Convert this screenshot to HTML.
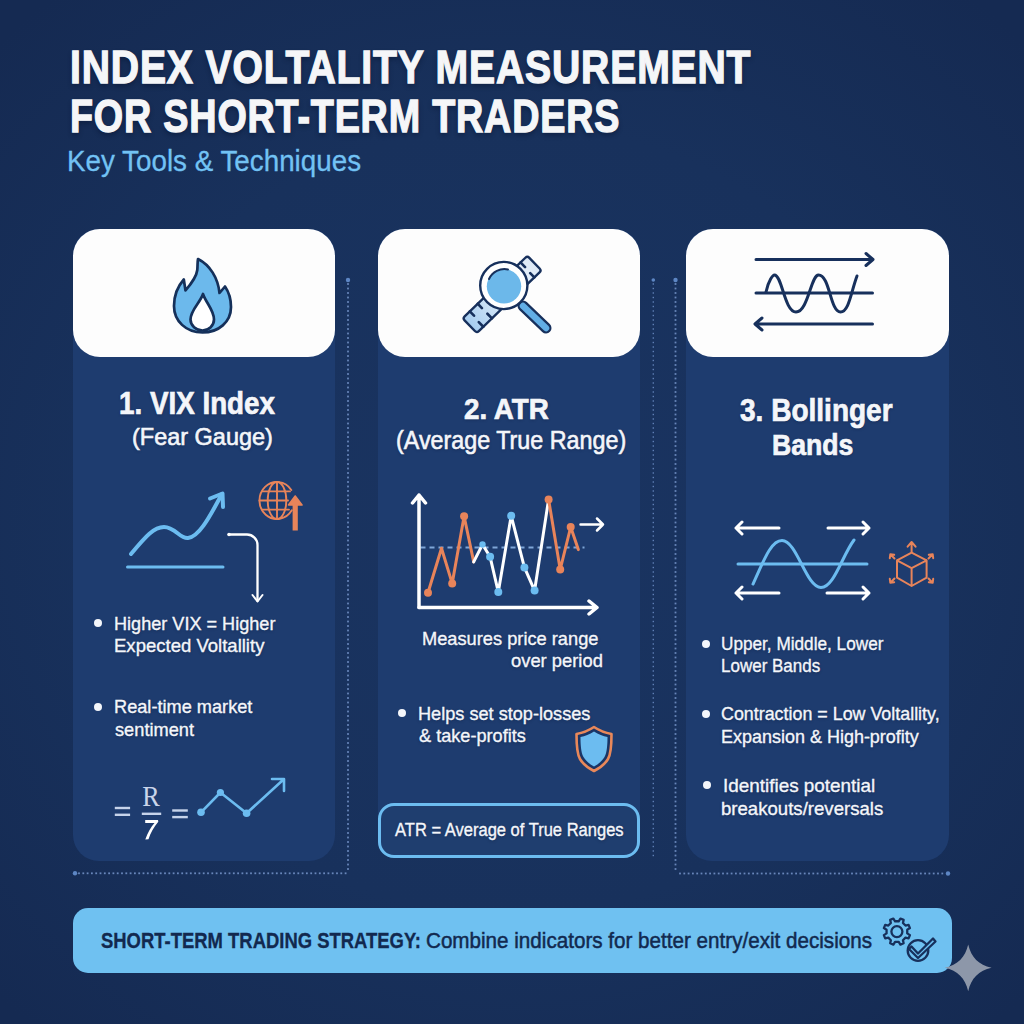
<!DOCTYPE html>
<html><head><meta charset="utf-8"><title>Index Voltality Measurement</title>
<style>
html,body{margin:0;padding:0;}
body{width:1024px;height:1024px;overflow:hidden;position:relative;background:#172f59;font-family:"Liberation Sans",sans-serif;}
.bg{position:absolute;left:0;top:0;width:1024px;height:1024px;background:radial-gradient(ellipse 720px 680px at 512px 520px, #1a3461 0%, #18315c 58%, #152a52 100%);}
.card{position:absolute;background:#1e3c6f;border-radius:26px;}
.hdr{position:absolute;background:#fdfdfd;border-radius:27px;}
.tx{position:absolute;white-space:pre;line-height:1;}
.tx span{display:inline-block;transform-origin:0 0;}
#t1,#t2{text-shadow:0 3px 6px rgba(5,15,40,0.45);}
.tx.w{text-shadow:0 1px 3px rgba(8,18,45,0.35);}
svg{position:absolute;left:0;top:0;}
</style></head><body>
<div class="bg"></div>

<div class="card" style="left:72.5px;top:229px;width:262px;height:632px"></div>
<div class="card" style="left:377.5px;top:229px;width:262.5px;height:610px"></div>
<div class="card" style="left:685.5px;top:229px;width:263px;height:632px"></div>
<div class="hdr" style="left:72.5px;top:228.5px;width:262px;height:128.5px"></div>
<div class="hdr" style="left:377.5px;top:229px;width:262.5px;height:128px"></div>
<div class="hdr" style="left:685.5px;top:229px;width:263px;height:128px"></div>
<div style="position:absolute;left:378px;top:802.5px;width:255.5px;height:49.5px;border:3px solid #6cbcf0;border-radius:16px;background:#1f3e6f;"></div>
<div style="position:absolute;left:73px;top:907.5px;width:878.5px;height:65.5px;border-radius:15px;background:#6fc1f1;"></div>
<svg width="1024" height="1024" viewBox="0 0 1024 1024">
<g fill="#6886ba"><rect x="347.10" y="283.10" width="1.80" height="1.80"/><rect x="347.10" y="287.60" width="1.80" height="1.80"/><rect x="347.10" y="292.10" width="1.80" height="1.80"/><rect x="347.10" y="296.60" width="1.80" height="1.80"/><rect x="347.10" y="301.10" width="1.80" height="1.80"/><rect x="347.10" y="305.60" width="1.80" height="1.80"/><rect x="347.10" y="310.10" width="1.80" height="1.80"/><rect x="347.10" y="314.60" width="1.80" height="1.80"/><rect x="347.10" y="319.10" width="1.80" height="1.80"/><rect x="347.10" y="323.60" width="1.80" height="1.80"/><rect x="347.10" y="328.10" width="1.80" height="1.80"/><rect x="347.10" y="332.60" width="1.80" height="1.80"/><rect x="347.10" y="337.10" width="1.80" height="1.80"/><rect x="347.10" y="341.60" width="1.80" height="1.80"/><rect x="347.10" y="346.10" width="1.80" height="1.80"/><rect x="347.10" y="350.60" width="1.80" height="1.80"/><rect x="347.10" y="355.10" width="1.80" height="1.80"/><rect x="347.10" y="359.60" width="1.80" height="1.80"/><rect x="347.10" y="364.10" width="1.80" height="1.80"/><rect x="347.10" y="368.60" width="1.80" height="1.80"/><rect x="347.10" y="373.10" width="1.80" height="1.80"/><rect x="347.10" y="377.60" width="1.80" height="1.80"/><rect x="347.10" y="382.10" width="1.80" height="1.80"/><rect x="347.10" y="386.60" width="1.80" height="1.80"/><rect x="347.10" y="391.10" width="1.80" height="1.80"/><rect x="347.10" y="395.60" width="1.80" height="1.80"/><rect x="347.10" y="400.10" width="1.80" height="1.80"/><rect x="347.10" y="404.60" width="1.80" height="1.80"/><rect x="347.10" y="409.10" width="1.80" height="1.80"/><rect x="347.10" y="413.60" width="1.80" height="1.80"/><rect x="347.10" y="418.10" width="1.80" height="1.80"/><rect x="347.10" y="422.60" width="1.80" height="1.80"/><rect x="347.10" y="427.10" width="1.80" height="1.80"/><rect x="347.10" y="431.60" width="1.80" height="1.80"/><rect x="347.10" y="436.10" width="1.80" height="1.80"/><rect x="347.10" y="440.60" width="1.80" height="1.80"/><rect x="347.10" y="445.10" width="1.80" height="1.80"/><rect x="347.10" y="449.60" width="1.80" height="1.80"/><rect x="347.10" y="454.10" width="1.80" height="1.80"/><rect x="347.10" y="458.60" width="1.80" height="1.80"/><rect x="347.10" y="463.10" width="1.80" height="1.80"/><rect x="347.10" y="467.60" width="1.80" height="1.80"/><rect x="347.10" y="472.10" width="1.80" height="1.80"/><rect x="347.10" y="476.60" width="1.80" height="1.80"/><rect x="347.10" y="481.10" width="1.80" height="1.80"/><rect x="347.10" y="485.60" width="1.80" height="1.80"/><rect x="347.10" y="490.10" width="1.80" height="1.80"/><rect x="347.10" y="494.60" width="1.80" height="1.80"/><rect x="347.10" y="499.10" width="1.80" height="1.80"/><rect x="347.10" y="503.60" width="1.80" height="1.80"/><rect x="347.10" y="508.10" width="1.80" height="1.80"/><rect x="347.10" y="512.60" width="1.80" height="1.80"/><rect x="347.10" y="517.10" width="1.80" height="1.80"/><rect x="347.10" y="521.60" width="1.80" height="1.80"/><rect x="347.10" y="526.10" width="1.80" height="1.80"/><rect x="347.10" y="530.60" width="1.80" height="1.80"/><rect x="347.10" y="535.10" width="1.80" height="1.80"/><rect x="347.10" y="539.60" width="1.80" height="1.80"/><rect x="347.10" y="544.10" width="1.80" height="1.80"/><rect x="347.10" y="548.60" width="1.80" height="1.80"/><rect x="347.10" y="553.10" width="1.80" height="1.80"/><rect x="347.10" y="557.60" width="1.80" height="1.80"/><rect x="347.10" y="562.10" width="1.80" height="1.80"/><rect x="347.10" y="566.60" width="1.80" height="1.80"/><rect x="347.10" y="571.10" width="1.80" height="1.80"/><rect x="347.10" y="575.60" width="1.80" height="1.80"/><rect x="347.10" y="580.10" width="1.80" height="1.80"/><rect x="347.10" y="584.60" width="1.80" height="1.80"/><rect x="347.10" y="589.10" width="1.80" height="1.80"/><rect x="347.10" y="593.60" width="1.80" height="1.80"/><rect x="347.10" y="598.10" width="1.80" height="1.80"/><rect x="347.10" y="602.60" width="1.80" height="1.80"/><rect x="347.10" y="607.10" width="1.80" height="1.80"/><rect x="347.10" y="611.60" width="1.80" height="1.80"/><rect x="347.10" y="616.10" width="1.80" height="1.80"/><rect x="347.10" y="620.60" width="1.80" height="1.80"/><rect x="347.10" y="625.10" width="1.80" height="1.80"/><rect x="347.10" y="629.60" width="1.80" height="1.80"/><rect x="347.10" y="634.10" width="1.80" height="1.80"/><rect x="347.10" y="638.60" width="1.80" height="1.80"/><rect x="347.10" y="643.10" width="1.80" height="1.80"/><rect x="347.10" y="647.60" width="1.80" height="1.80"/><rect x="347.10" y="652.10" width="1.80" height="1.80"/><rect x="347.10" y="656.60" width="1.80" height="1.80"/><rect x="347.10" y="661.10" width="1.80" height="1.80"/><rect x="347.10" y="665.60" width="1.80" height="1.80"/><rect x="347.10" y="670.10" width="1.80" height="1.80"/><rect x="347.10" y="674.60" width="1.80" height="1.80"/><rect x="347.10" y="679.10" width="1.80" height="1.80"/><rect x="347.10" y="683.60" width="1.80" height="1.80"/><rect x="347.10" y="688.10" width="1.80" height="1.80"/><rect x="347.10" y="692.60" width="1.80" height="1.80"/><rect x="347.10" y="697.10" width="1.80" height="1.80"/><rect x="347.10" y="701.60" width="1.80" height="1.80"/><rect x="347.10" y="706.10" width="1.80" height="1.80"/><rect x="347.10" y="710.60" width="1.80" height="1.80"/><rect x="347.10" y="715.10" width="1.80" height="1.80"/><rect x="347.10" y="719.60" width="1.80" height="1.80"/><rect x="347.10" y="724.10" width="1.80" height="1.80"/><rect x="347.10" y="728.60" width="1.80" height="1.80"/><rect x="347.10" y="733.10" width="1.80" height="1.80"/><rect x="347.10" y="737.60" width="1.80" height="1.80"/><rect x="347.10" y="742.10" width="1.80" height="1.80"/><rect x="347.10" y="746.60" width="1.80" height="1.80"/><rect x="347.10" y="751.10" width="1.80" height="1.80"/><rect x="347.10" y="755.60" width="1.80" height="1.80"/><rect x="347.10" y="760.10" width="1.80" height="1.80"/><rect x="347.10" y="764.60" width="1.80" height="1.80"/><rect x="347.10" y="769.10" width="1.80" height="1.80"/><rect x="347.10" y="773.60" width="1.80" height="1.80"/><rect x="347.10" y="778.10" width="1.80" height="1.80"/><rect x="347.10" y="782.60" width="1.80" height="1.80"/><rect x="347.10" y="787.10" width="1.80" height="1.80"/><rect x="347.10" y="791.60" width="1.80" height="1.80"/><rect x="347.10" y="796.10" width="1.80" height="1.80"/><rect x="347.10" y="800.60" width="1.80" height="1.80"/><rect x="347.10" y="805.10" width="1.80" height="1.80"/><rect x="347.10" y="809.60" width="1.80" height="1.80"/><rect x="347.10" y="814.10" width="1.80" height="1.80"/><rect x="347.10" y="818.60" width="1.80" height="1.80"/><rect x="347.10" y="823.10" width="1.80" height="1.80"/><rect x="347.10" y="827.60" width="1.80" height="1.80"/><rect x="347.10" y="832.10" width="1.80" height="1.80"/><rect x="347.10" y="836.60" width="1.80" height="1.80"/><rect x="347.10" y="841.10" width="1.80" height="1.80"/><rect x="347.10" y="845.60" width="1.80" height="1.80"/><rect x="347.10" y="850.10" width="1.80" height="1.80"/><rect x="347.10" y="854.60" width="1.80" height="1.80"/><rect x="347.10" y="859.10" width="1.80" height="1.80"/><rect x="347.10" y="863.60" width="1.80" height="1.80"/><rect x="347.10" y="868.10" width="1.80" height="1.80"/></g><circle cx="348" cy="280" r="2.2" fill="#5d86c4"/>
<g fill="#6886ba"><rect x="78.10" y="872.40" width="1.80" height="1.80"/><rect x="82.40" y="872.40" width="1.80" height="1.80"/><rect x="86.70" y="872.40" width="1.80" height="1.80"/><rect x="91.00" y="872.40" width="1.80" height="1.80"/><rect x="95.30" y="872.40" width="1.80" height="1.80"/><rect x="99.60" y="872.40" width="1.80" height="1.80"/><rect x="103.90" y="872.40" width="1.80" height="1.80"/><rect x="108.20" y="872.40" width="1.80" height="1.80"/><rect x="112.50" y="872.40" width="1.80" height="1.80"/><rect x="116.80" y="872.40" width="1.80" height="1.80"/><rect x="121.10" y="872.40" width="1.80" height="1.80"/><rect x="125.40" y="872.40" width="1.80" height="1.80"/><rect x="129.70" y="872.40" width="1.80" height="1.80"/><rect x="134.00" y="872.40" width="1.80" height="1.80"/><rect x="138.30" y="872.40" width="1.80" height="1.80"/><rect x="142.60" y="872.40" width="1.80" height="1.80"/><rect x="146.90" y="872.40" width="1.80" height="1.80"/><rect x="151.20" y="872.40" width="1.80" height="1.80"/><rect x="155.50" y="872.40" width="1.80" height="1.80"/><rect x="159.80" y="872.40" width="1.80" height="1.80"/><rect x="164.10" y="872.40" width="1.80" height="1.80"/><rect x="168.40" y="872.40" width="1.80" height="1.80"/><rect x="172.70" y="872.40" width="1.80" height="1.80"/><rect x="177.00" y="872.40" width="1.80" height="1.80"/><rect x="181.30" y="872.40" width="1.80" height="1.80"/><rect x="185.60" y="872.40" width="1.80" height="1.80"/><rect x="189.90" y="872.40" width="1.80" height="1.80"/><rect x="194.20" y="872.40" width="1.80" height="1.80"/><rect x="198.50" y="872.40" width="1.80" height="1.80"/><rect x="202.80" y="872.40" width="1.80" height="1.80"/><rect x="207.10" y="872.40" width="1.80" height="1.80"/><rect x="211.40" y="872.40" width="1.80" height="1.80"/><rect x="215.70" y="872.40" width="1.80" height="1.80"/><rect x="220.00" y="872.40" width="1.80" height="1.80"/><rect x="224.30" y="872.40" width="1.80" height="1.80"/><rect x="228.60" y="872.40" width="1.80" height="1.80"/><rect x="232.90" y="872.40" width="1.80" height="1.80"/><rect x="237.20" y="872.40" width="1.80" height="1.80"/><rect x="241.50" y="872.40" width="1.80" height="1.80"/><rect x="245.80" y="872.40" width="1.80" height="1.80"/><rect x="250.10" y="872.40" width="1.80" height="1.80"/><rect x="254.40" y="872.40" width="1.80" height="1.80"/><rect x="258.70" y="872.40" width="1.80" height="1.80"/><rect x="263.00" y="872.40" width="1.80" height="1.80"/><rect x="267.30" y="872.40" width="1.80" height="1.80"/><rect x="271.60" y="872.40" width="1.80" height="1.80"/><rect x="275.90" y="872.40" width="1.80" height="1.80"/><rect x="280.20" y="872.40" width="1.80" height="1.80"/><rect x="284.50" y="872.40" width="1.80" height="1.80"/><rect x="288.80" y="872.40" width="1.80" height="1.80"/><rect x="293.10" y="872.40" width="1.80" height="1.80"/><rect x="297.40" y="872.40" width="1.80" height="1.80"/><rect x="301.70" y="872.40" width="1.80" height="1.80"/><rect x="306.00" y="872.40" width="1.80" height="1.80"/><rect x="310.30" y="872.40" width="1.80" height="1.80"/><rect x="314.60" y="872.40" width="1.80" height="1.80"/><rect x="318.90" y="872.40" width="1.80" height="1.80"/><rect x="323.20" y="872.40" width="1.80" height="1.80"/><rect x="327.50" y="872.40" width="1.80" height="1.80"/><rect x="331.80" y="872.40" width="1.80" height="1.80"/><rect x="336.10" y="872.40" width="1.80" height="1.80"/><rect x="340.40" y="872.40" width="1.80" height="1.80"/><rect x="344.70" y="872.40" width="1.80" height="1.80"/></g><circle cx="75" cy="873.3" r="2.2" fill="#5d86c4"/>
<g fill="#5f7fb6"><rect x="652.60" y="283.30" width="1.40" height="1.40"/><rect x="652.60" y="287.80" width="1.40" height="1.40"/><rect x="652.60" y="292.30" width="1.40" height="1.40"/><rect x="652.60" y="296.80" width="1.40" height="1.40"/><rect x="652.60" y="301.30" width="1.40" height="1.40"/><rect x="652.60" y="305.80" width="1.40" height="1.40"/><rect x="652.60" y="310.30" width="1.40" height="1.40"/><rect x="652.60" y="314.80" width="1.40" height="1.40"/><rect x="652.60" y="319.30" width="1.40" height="1.40"/><rect x="652.60" y="323.80" width="1.40" height="1.40"/><rect x="652.60" y="328.30" width="1.40" height="1.40"/><rect x="652.60" y="332.80" width="1.40" height="1.40"/><rect x="652.60" y="337.30" width="1.40" height="1.40"/><rect x="652.60" y="341.80" width="1.40" height="1.40"/><rect x="652.60" y="346.30" width="1.40" height="1.40"/><rect x="652.60" y="350.80" width="1.40" height="1.40"/><rect x="652.60" y="355.30" width="1.40" height="1.40"/><rect x="652.60" y="359.80" width="1.40" height="1.40"/><rect x="652.60" y="364.30" width="1.40" height="1.40"/><rect x="652.60" y="368.80" width="1.40" height="1.40"/><rect x="652.60" y="373.30" width="1.40" height="1.40"/><rect x="652.60" y="377.80" width="1.40" height="1.40"/><rect x="652.60" y="382.30" width="1.40" height="1.40"/><rect x="652.60" y="386.80" width="1.40" height="1.40"/><rect x="652.60" y="391.30" width="1.40" height="1.40"/><rect x="652.60" y="395.80" width="1.40" height="1.40"/><rect x="652.60" y="400.30" width="1.40" height="1.40"/><rect x="652.60" y="404.80" width="1.40" height="1.40"/><rect x="652.60" y="409.30" width="1.40" height="1.40"/><rect x="652.60" y="413.80" width="1.40" height="1.40"/><rect x="652.60" y="418.30" width="1.40" height="1.40"/><rect x="652.60" y="422.80" width="1.40" height="1.40"/><rect x="652.60" y="427.30" width="1.40" height="1.40"/><rect x="652.60" y="431.80" width="1.40" height="1.40"/><rect x="652.60" y="436.30" width="1.40" height="1.40"/><rect x="652.60" y="440.80" width="1.40" height="1.40"/><rect x="652.60" y="445.30" width="1.40" height="1.40"/><rect x="652.60" y="449.80" width="1.40" height="1.40"/><rect x="652.60" y="454.30" width="1.40" height="1.40"/><rect x="652.60" y="458.80" width="1.40" height="1.40"/><rect x="652.60" y="463.30" width="1.40" height="1.40"/><rect x="652.60" y="467.80" width="1.40" height="1.40"/><rect x="652.60" y="472.30" width="1.40" height="1.40"/><rect x="652.60" y="476.80" width="1.40" height="1.40"/><rect x="652.60" y="481.30" width="1.40" height="1.40"/><rect x="652.60" y="485.80" width="1.40" height="1.40"/><rect x="652.60" y="490.30" width="1.40" height="1.40"/><rect x="652.60" y="494.80" width="1.40" height="1.40"/><rect x="652.60" y="499.30" width="1.40" height="1.40"/><rect x="652.60" y="503.80" width="1.40" height="1.40"/><rect x="652.60" y="508.30" width="1.40" height="1.40"/><rect x="652.60" y="512.80" width="1.40" height="1.40"/><rect x="652.60" y="517.30" width="1.40" height="1.40"/><rect x="652.60" y="521.80" width="1.40" height="1.40"/><rect x="652.60" y="526.30" width="1.40" height="1.40"/><rect x="652.60" y="530.80" width="1.40" height="1.40"/><rect x="652.60" y="535.30" width="1.40" height="1.40"/><rect x="652.60" y="539.80" width="1.40" height="1.40"/><rect x="652.60" y="544.30" width="1.40" height="1.40"/><rect x="652.60" y="548.80" width="1.40" height="1.40"/><rect x="652.60" y="553.30" width="1.40" height="1.40"/><rect x="652.60" y="557.80" width="1.40" height="1.40"/><rect x="652.60" y="562.30" width="1.40" height="1.40"/><rect x="652.60" y="566.80" width="1.40" height="1.40"/><rect x="652.60" y="571.30" width="1.40" height="1.40"/><rect x="652.60" y="575.80" width="1.40" height="1.40"/><rect x="652.60" y="580.30" width="1.40" height="1.40"/><rect x="652.60" y="584.80" width="1.40" height="1.40"/><rect x="652.60" y="589.30" width="1.40" height="1.40"/><rect x="652.60" y="593.80" width="1.40" height="1.40"/><rect x="652.60" y="598.30" width="1.40" height="1.40"/><rect x="652.60" y="602.80" width="1.40" height="1.40"/><rect x="652.60" y="607.30" width="1.40" height="1.40"/><rect x="652.60" y="611.80" width="1.40" height="1.40"/><rect x="652.60" y="616.30" width="1.40" height="1.40"/><rect x="652.60" y="620.80" width="1.40" height="1.40"/><rect x="652.60" y="625.30" width="1.40" height="1.40"/><rect x="652.60" y="629.80" width="1.40" height="1.40"/><rect x="652.60" y="634.30" width="1.40" height="1.40"/><rect x="652.60" y="638.80" width="1.40" height="1.40"/><rect x="652.60" y="643.30" width="1.40" height="1.40"/><rect x="652.60" y="647.80" width="1.40" height="1.40"/><rect x="652.60" y="652.30" width="1.40" height="1.40"/><rect x="652.60" y="656.80" width="1.40" height="1.40"/><rect x="652.60" y="661.30" width="1.40" height="1.40"/><rect x="652.60" y="665.80" width="1.40" height="1.40"/><rect x="652.60" y="670.30" width="1.40" height="1.40"/><rect x="652.60" y="674.80" width="1.40" height="1.40"/><rect x="652.60" y="679.30" width="1.40" height="1.40"/><rect x="652.60" y="683.80" width="1.40" height="1.40"/><rect x="652.60" y="688.30" width="1.40" height="1.40"/><rect x="652.60" y="692.80" width="1.40" height="1.40"/><rect x="652.60" y="697.30" width="1.40" height="1.40"/><rect x="652.60" y="701.80" width="1.40" height="1.40"/><rect x="652.60" y="706.30" width="1.40" height="1.40"/><rect x="652.60" y="710.80" width="1.40" height="1.40"/><rect x="652.60" y="715.30" width="1.40" height="1.40"/><rect x="652.60" y="719.80" width="1.40" height="1.40"/><rect x="652.60" y="724.30" width="1.40" height="1.40"/><rect x="652.60" y="728.80" width="1.40" height="1.40"/><rect x="652.60" y="733.30" width="1.40" height="1.40"/><rect x="652.60" y="737.80" width="1.40" height="1.40"/><rect x="652.60" y="742.30" width="1.40" height="1.40"/><rect x="652.60" y="746.80" width="1.40" height="1.40"/><rect x="652.60" y="751.30" width="1.40" height="1.40"/><rect x="652.60" y="755.80" width="1.40" height="1.40"/><rect x="652.60" y="760.30" width="1.40" height="1.40"/><rect x="652.60" y="764.80" width="1.40" height="1.40"/><rect x="652.60" y="769.30" width="1.40" height="1.40"/><rect x="652.60" y="773.80" width="1.40" height="1.40"/><rect x="652.60" y="778.30" width="1.40" height="1.40"/><rect x="652.60" y="782.80" width="1.40" height="1.40"/><rect x="652.60" y="787.30" width="1.40" height="1.40"/><rect x="652.60" y="791.80" width="1.40" height="1.40"/><rect x="652.60" y="796.30" width="1.40" height="1.40"/><rect x="652.60" y="800.80" width="1.40" height="1.40"/><rect x="652.60" y="805.30" width="1.40" height="1.40"/><rect x="652.60" y="809.80" width="1.40" height="1.40"/><rect x="652.60" y="814.30" width="1.40" height="1.40"/><rect x="652.60" y="818.80" width="1.40" height="1.40"/><rect x="652.60" y="823.30" width="1.40" height="1.40"/><rect x="652.60" y="827.80" width="1.40" height="1.40"/><rect x="652.60" y="832.30" width="1.40" height="1.40"/><rect x="652.60" y="836.80" width="1.40" height="1.40"/><rect x="652.60" y="841.30" width="1.40" height="1.40"/><rect x="652.60" y="845.80" width="1.40" height="1.40"/><rect x="652.60" y="850.30" width="1.40" height="1.40"/><rect x="652.60" y="854.80" width="1.40" height="1.40"/></g><circle cx="653.3" cy="280" r="1.8" fill="#5d86c4"/>
<g fill="#6886ba"><rect x="674.60" y="283.10" width="1.80" height="1.80"/><rect x="674.60" y="287.60" width="1.80" height="1.80"/><rect x="674.60" y="292.10" width="1.80" height="1.80"/><rect x="674.60" y="296.60" width="1.80" height="1.80"/><rect x="674.60" y="301.10" width="1.80" height="1.80"/><rect x="674.60" y="305.60" width="1.80" height="1.80"/><rect x="674.60" y="310.10" width="1.80" height="1.80"/><rect x="674.60" y="314.60" width="1.80" height="1.80"/><rect x="674.60" y="319.10" width="1.80" height="1.80"/><rect x="674.60" y="323.60" width="1.80" height="1.80"/><rect x="674.60" y="328.10" width="1.80" height="1.80"/><rect x="674.60" y="332.60" width="1.80" height="1.80"/><rect x="674.60" y="337.10" width="1.80" height="1.80"/><rect x="674.60" y="341.60" width="1.80" height="1.80"/><rect x="674.60" y="346.10" width="1.80" height="1.80"/><rect x="674.60" y="350.60" width="1.80" height="1.80"/><rect x="674.60" y="355.10" width="1.80" height="1.80"/><rect x="674.60" y="359.60" width="1.80" height="1.80"/><rect x="674.60" y="364.10" width="1.80" height="1.80"/><rect x="674.60" y="368.60" width="1.80" height="1.80"/><rect x="674.60" y="373.10" width="1.80" height="1.80"/><rect x="674.60" y="377.60" width="1.80" height="1.80"/><rect x="674.60" y="382.10" width="1.80" height="1.80"/><rect x="674.60" y="386.60" width="1.80" height="1.80"/><rect x="674.60" y="391.10" width="1.80" height="1.80"/><rect x="674.60" y="395.60" width="1.80" height="1.80"/><rect x="674.60" y="400.10" width="1.80" height="1.80"/><rect x="674.60" y="404.60" width="1.80" height="1.80"/><rect x="674.60" y="409.10" width="1.80" height="1.80"/><rect x="674.60" y="413.60" width="1.80" height="1.80"/><rect x="674.60" y="418.10" width="1.80" height="1.80"/><rect x="674.60" y="422.60" width="1.80" height="1.80"/><rect x="674.60" y="427.10" width="1.80" height="1.80"/><rect x="674.60" y="431.60" width="1.80" height="1.80"/><rect x="674.60" y="436.10" width="1.80" height="1.80"/><rect x="674.60" y="440.60" width="1.80" height="1.80"/><rect x="674.60" y="445.10" width="1.80" height="1.80"/><rect x="674.60" y="449.60" width="1.80" height="1.80"/><rect x="674.60" y="454.10" width="1.80" height="1.80"/><rect x="674.60" y="458.60" width="1.80" height="1.80"/><rect x="674.60" y="463.10" width="1.80" height="1.80"/><rect x="674.60" y="467.60" width="1.80" height="1.80"/><rect x="674.60" y="472.10" width="1.80" height="1.80"/><rect x="674.60" y="476.60" width="1.80" height="1.80"/><rect x="674.60" y="481.10" width="1.80" height="1.80"/><rect x="674.60" y="485.60" width="1.80" height="1.80"/><rect x="674.60" y="490.10" width="1.80" height="1.80"/><rect x="674.60" y="494.60" width="1.80" height="1.80"/><rect x="674.60" y="499.10" width="1.80" height="1.80"/><rect x="674.60" y="503.60" width="1.80" height="1.80"/><rect x="674.60" y="508.10" width="1.80" height="1.80"/><rect x="674.60" y="512.60" width="1.80" height="1.80"/><rect x="674.60" y="517.10" width="1.80" height="1.80"/><rect x="674.60" y="521.60" width="1.80" height="1.80"/><rect x="674.60" y="526.10" width="1.80" height="1.80"/><rect x="674.60" y="530.60" width="1.80" height="1.80"/><rect x="674.60" y="535.10" width="1.80" height="1.80"/><rect x="674.60" y="539.60" width="1.80" height="1.80"/><rect x="674.60" y="544.10" width="1.80" height="1.80"/><rect x="674.60" y="548.60" width="1.80" height="1.80"/><rect x="674.60" y="553.10" width="1.80" height="1.80"/><rect x="674.60" y="557.60" width="1.80" height="1.80"/><rect x="674.60" y="562.10" width="1.80" height="1.80"/><rect x="674.60" y="566.60" width="1.80" height="1.80"/><rect x="674.60" y="571.10" width="1.80" height="1.80"/><rect x="674.60" y="575.60" width="1.80" height="1.80"/><rect x="674.60" y="580.10" width="1.80" height="1.80"/><rect x="674.60" y="584.60" width="1.80" height="1.80"/><rect x="674.60" y="589.10" width="1.80" height="1.80"/><rect x="674.60" y="593.60" width="1.80" height="1.80"/><rect x="674.60" y="598.10" width="1.80" height="1.80"/><rect x="674.60" y="602.60" width="1.80" height="1.80"/><rect x="674.60" y="607.10" width="1.80" height="1.80"/><rect x="674.60" y="611.60" width="1.80" height="1.80"/><rect x="674.60" y="616.10" width="1.80" height="1.80"/><rect x="674.60" y="620.60" width="1.80" height="1.80"/><rect x="674.60" y="625.10" width="1.80" height="1.80"/><rect x="674.60" y="629.60" width="1.80" height="1.80"/><rect x="674.60" y="634.10" width="1.80" height="1.80"/><rect x="674.60" y="638.60" width="1.80" height="1.80"/><rect x="674.60" y="643.10" width="1.80" height="1.80"/><rect x="674.60" y="647.60" width="1.80" height="1.80"/><rect x="674.60" y="652.10" width="1.80" height="1.80"/><rect x="674.60" y="656.60" width="1.80" height="1.80"/><rect x="674.60" y="661.10" width="1.80" height="1.80"/><rect x="674.60" y="665.60" width="1.80" height="1.80"/><rect x="674.60" y="670.10" width="1.80" height="1.80"/><rect x="674.60" y="674.60" width="1.80" height="1.80"/><rect x="674.60" y="679.10" width="1.80" height="1.80"/><rect x="674.60" y="683.60" width="1.80" height="1.80"/><rect x="674.60" y="688.10" width="1.80" height="1.80"/><rect x="674.60" y="692.60" width="1.80" height="1.80"/><rect x="674.60" y="697.10" width="1.80" height="1.80"/><rect x="674.60" y="701.60" width="1.80" height="1.80"/><rect x="674.60" y="706.10" width="1.80" height="1.80"/><rect x="674.60" y="710.60" width="1.80" height="1.80"/><rect x="674.60" y="715.10" width="1.80" height="1.80"/><rect x="674.60" y="719.60" width="1.80" height="1.80"/><rect x="674.60" y="724.10" width="1.80" height="1.80"/><rect x="674.60" y="728.60" width="1.80" height="1.80"/><rect x="674.60" y="733.10" width="1.80" height="1.80"/><rect x="674.60" y="737.60" width="1.80" height="1.80"/><rect x="674.60" y="742.10" width="1.80" height="1.80"/><rect x="674.60" y="746.60" width="1.80" height="1.80"/><rect x="674.60" y="751.10" width="1.80" height="1.80"/><rect x="674.60" y="755.60" width="1.80" height="1.80"/><rect x="674.60" y="760.10" width="1.80" height="1.80"/><rect x="674.60" y="764.60" width="1.80" height="1.80"/><rect x="674.60" y="769.10" width="1.80" height="1.80"/><rect x="674.60" y="773.60" width="1.80" height="1.80"/><rect x="674.60" y="778.10" width="1.80" height="1.80"/><rect x="674.60" y="782.60" width="1.80" height="1.80"/><rect x="674.60" y="787.10" width="1.80" height="1.80"/><rect x="674.60" y="791.60" width="1.80" height="1.80"/><rect x="674.60" y="796.10" width="1.80" height="1.80"/><rect x="674.60" y="800.60" width="1.80" height="1.80"/><rect x="674.60" y="805.10" width="1.80" height="1.80"/><rect x="674.60" y="809.60" width="1.80" height="1.80"/><rect x="674.60" y="814.10" width="1.80" height="1.80"/><rect x="674.60" y="818.60" width="1.80" height="1.80"/><rect x="674.60" y="823.10" width="1.80" height="1.80"/><rect x="674.60" y="827.60" width="1.80" height="1.80"/><rect x="674.60" y="832.10" width="1.80" height="1.80"/><rect x="674.60" y="836.60" width="1.80" height="1.80"/><rect x="674.60" y="841.10" width="1.80" height="1.80"/><rect x="674.60" y="845.60" width="1.80" height="1.80"/><rect x="674.60" y="850.10" width="1.80" height="1.80"/><rect x="674.60" y="854.60" width="1.80" height="1.80"/><rect x="674.60" y="859.10" width="1.80" height="1.80"/><rect x="674.60" y="863.60" width="1.80" height="1.80"/><rect x="674.60" y="868.10" width="1.80" height="1.80"/></g><circle cx="675.5" cy="280" r="2.2" fill="#5d86c4"/>
<g fill="#6886ba"><rect x="679.10" y="872.60" width="1.80" height="1.80"/><rect x="683.40" y="872.60" width="1.80" height="1.80"/><rect x="687.70" y="872.60" width="1.80" height="1.80"/><rect x="692.00" y="872.60" width="1.80" height="1.80"/><rect x="696.30" y="872.60" width="1.80" height="1.80"/><rect x="700.60" y="872.60" width="1.80" height="1.80"/><rect x="704.90" y="872.60" width="1.80" height="1.80"/><rect x="709.20" y="872.60" width="1.80" height="1.80"/><rect x="713.50" y="872.60" width="1.80" height="1.80"/><rect x="717.80" y="872.60" width="1.80" height="1.80"/><rect x="722.10" y="872.60" width="1.80" height="1.80"/><rect x="726.40" y="872.60" width="1.80" height="1.80"/><rect x="730.70" y="872.60" width="1.80" height="1.80"/><rect x="735.00" y="872.60" width="1.80" height="1.80"/><rect x="739.30" y="872.60" width="1.80" height="1.80"/><rect x="743.60" y="872.60" width="1.80" height="1.80"/><rect x="747.90" y="872.60" width="1.80" height="1.80"/><rect x="752.20" y="872.60" width="1.80" height="1.80"/><rect x="756.50" y="872.60" width="1.80" height="1.80"/><rect x="760.80" y="872.60" width="1.80" height="1.80"/><rect x="765.10" y="872.60" width="1.80" height="1.80"/><rect x="769.40" y="872.60" width="1.80" height="1.80"/><rect x="773.70" y="872.60" width="1.80" height="1.80"/><rect x="778.00" y="872.60" width="1.80" height="1.80"/><rect x="782.30" y="872.60" width="1.80" height="1.80"/><rect x="786.60" y="872.60" width="1.80" height="1.80"/><rect x="790.90" y="872.60" width="1.80" height="1.80"/><rect x="795.20" y="872.60" width="1.80" height="1.80"/><rect x="799.50" y="872.60" width="1.80" height="1.80"/><rect x="803.80" y="872.60" width="1.80" height="1.80"/><rect x="808.10" y="872.60" width="1.80" height="1.80"/><rect x="812.40" y="872.60" width="1.80" height="1.80"/><rect x="816.70" y="872.60" width="1.80" height="1.80"/><rect x="821.00" y="872.60" width="1.80" height="1.80"/><rect x="825.30" y="872.60" width="1.80" height="1.80"/><rect x="829.60" y="872.60" width="1.80" height="1.80"/><rect x="833.90" y="872.60" width="1.80" height="1.80"/><rect x="838.20" y="872.60" width="1.80" height="1.80"/><rect x="842.50" y="872.60" width="1.80" height="1.80"/><rect x="846.80" y="872.60" width="1.80" height="1.80"/><rect x="851.10" y="872.60" width="1.80" height="1.80"/><rect x="855.40" y="872.60" width="1.80" height="1.80"/><rect x="859.70" y="872.60" width="1.80" height="1.80"/><rect x="864.00" y="872.60" width="1.80" height="1.80"/><rect x="868.30" y="872.60" width="1.80" height="1.80"/><rect x="872.60" y="872.60" width="1.80" height="1.80"/><rect x="876.90" y="872.60" width="1.80" height="1.80"/><rect x="881.20" y="872.60" width="1.80" height="1.80"/><rect x="885.50" y="872.60" width="1.80" height="1.80"/><rect x="889.80" y="872.60" width="1.80" height="1.80"/><rect x="894.10" y="872.60" width="1.80" height="1.80"/><rect x="898.40" y="872.60" width="1.80" height="1.80"/><rect x="902.70" y="872.60" width="1.80" height="1.80"/><rect x="907.00" y="872.60" width="1.80" height="1.80"/><rect x="911.30" y="872.60" width="1.80" height="1.80"/><rect x="915.60" y="872.60" width="1.80" height="1.80"/><rect x="919.90" y="872.60" width="1.80" height="1.80"/><rect x="924.20" y="872.60" width="1.80" height="1.80"/><rect x="928.50" y="872.60" width="1.80" height="1.80"/><rect x="932.80" y="872.60" width="1.80" height="1.80"/><rect x="937.10" y="872.60" width="1.80" height="1.80"/><rect x="941.40" y="872.60" width="1.80" height="1.80"/></g><circle cx="948" cy="873.5" r="2.2" fill="#5d86c4"/>
<g transform="translate(160,250)" stroke="#15305a" stroke-width="2.7" stroke-linejoin="round">
<path fill="#6cb9ec" d="M38,9 C50,15 58,28 59.5,43 L65,36.5 C69.5,43 71,50 71,57 C71,72 58.5,82.5 42.5,82.5 C26,82.5 14,71 14,56 C14,46 18,36 23.8,29.5 L25.5,40.5 C31,34 36.5,27 37.3,20 C37.7,15 37.4,12 38,9 Z"/>
<path fill="#ffffff" d="M43,44 C46,53 54,60 54,69.5 C54,75.5 49,80.5 42.5,80.5 C36,80.5 30.5,75.5 30.5,69.5 C30.5,60 40,53 43,44 Z"/>
</g>
<g stroke="#17305c" stroke-width="2.4" stroke-linejoin="round" stroke-linecap="round">
<defs><linearGradient id="rg" x1="0" y1="0" x2="1" y2="0"><stop offset="0" stop-color="#a6cdf0"/><stop offset="0.35" stop-color="#cfe3f6"/><stop offset="0.7" stop-color="#e9f1fa"/><stop offset="1" stop-color="#dde9f6"/></linearGradient></defs>
<g transform="translate(502.1,294.4) rotate(-44)">
<rect x="-45" y="-10.2" width="90" height="20.4" rx="2.8" fill="url(#rg)"/>
<path d="M-24,-10.2 v6 M-35,-10.2 v6 M-24,10.2 v-6.5 M-36,10.2 v-6.5 M35.5,-10.2 v6.5 M35,10.2 v-6" fill="none" stroke-width="2.6"/>
</g>
<path d="M516,298 L524,306" stroke-width="5" fill="none"/>
<path d="M523,306 L546,328" stroke-width="11" fill="none"/>
<path d="M523,306 L546,328" stroke="#62aee6" stroke-width="6.5" fill="none"/>
<circle cx="503.8" cy="285.5" r="23.6" fill="#ffffff"/>
<circle cx="504" cy="286.3" r="17.2" fill="#6cb8ea" stroke="none"/>
<path d="M489,279 A17,17 0 0 1 508,269.5" fill="none" stroke-width="2"/>
</g>
<g stroke="#17305c" stroke-width="3" fill="none" stroke-linecap="round" stroke-linejoin="round">
<path d="M756,259.5 H872.5 M866,253.5 L873,259.5 L866,265.5"/>
<path d="M756,293 H872.5"/>
<path d="M872.5,324 H755.5 M762,318 L755,324 L762,330"/>
<path d="M766,292 C768.5,280 773,275 774.5,275 C782,275 784.5,312 796,312 C808,312 811,275 818.5,275 C830,275 830,312 840.5,312 C849,312 851,292 857,276"/>
</g>
<g fill="none" stroke-linecap="round" stroke-linejoin="round">
<path d="M131,554 C146,536 154,527 164,527 C175,527 180,539 188,538 C200,537 212,512 222,494" stroke="#6cbcf0" stroke-width="4"/>
<path d="M210,498.5 L222.5,493.5 L223,507" stroke="#6cbcf0" stroke-width="4"/>
<path d="M127.5,567 H223" stroke="#6cbcf0" stroke-width="3"/>
<path d="M229,534.5 H247 A10.5,10.5 0 0 1 257.5,545 V601" stroke="#ffffff" stroke-width="2.3"/><circle cx="229" cy="534.5" r="1.8" fill="#ffffff" stroke="none"/>
<path d="M252.5,595 L257.5,601.5 L262.5,595" stroke="#ffffff" stroke-width="2"/>
<g stroke="#e8845a" stroke-width="1.9">
<path d="M291.3,489.9 A17.5,18.5 0 1 0 291.8,510.3"/>
<ellipse cx="277" cy="500.5" rx="9.3" ry="18.5"/>
<path d="M277,482 V519 M262,491.4 H290 M259.5,500.5 H288 M262,509.6 H289"/>
</g>
<path d="M295.2,530.5 V503" stroke="#e8845a" stroke-width="5.2" stroke-linecap="butt"/>
<path d="M288.5,505 L295.2,496 L302,505 Z" fill="#e8845a" stroke="#e8845a" stroke-width="1.6"/>
</g>
<g>
<rect x="114.8" y="806.8" width="15.3" height="2.4" fill="#c6d3ea"/>
<rect x="114.8" y="813.6" width="15.3" height="2.4" fill="#c6d3ea"/>
<rect x="141.8" y="812.6" width="19.4" height="2.4" fill="#c6d3ea"/>
<rect x="172.2" y="809.3" width="15.6" height="2.4" fill="#c6d3ea"/>
<rect x="172.2" y="815.9" width="15.6" height="2.4" fill="#c6d3ea"/>
<text x="142.4" y="806.2" font-family="Liberation Serif" font-size="30.5" fill="#c9d5ea" transform="translate(142.2,0) scale(0.86,1) translate(-142.2,0)">R</text>
<path d="M145.2,820 H158 L158.3,821.8 C154,827 150.5,833 148.5,839.2 L145.3,839.4 C147.5,833 151,827 154.5,823 H145.2 Z" fill="#ffffff"/>
<path d="M201,812.3 L220.4,792.5 L246.6,813.2 L283.5,779.5 M272,779 H284 V791" fill="none" stroke="#6cbcf0" stroke-width="2.6" stroke-linecap="round" stroke-linejoin="round"/>
<circle cx="201" cy="812.3" r="3.8" fill="#6cbcf0"/>
<circle cx="220.4" cy="792.5" r="3.6" fill="#6cbcf0"/>
<circle cx="246.6" cy="813.2" r="3.8" fill="#6cbcf0"/>
</g>
<g fill="none" stroke-linecap="round" stroke-linejoin="round">
<path d="M420.5,547.5 H584.5" stroke="#7fa6d8" stroke-width="1.8" stroke-dasharray="5 4" stroke-linecap="butt"/>
<polyline points="428,592.7 441.5,548.2 452.2,583.4 464.1,516.2 473.7,561.9" stroke="#e8845a" stroke-width="3"/>
<polyline points="473.7,561.9 482.5,544.5 490.1,556.8 498.3,592 511.2,515.8 524.4,567.4 534.6,590.6 548.6,499.4" stroke="#ffffff" stroke-width="3"/>
<polyline points="548.6,499.4 560.2,569.5 570.7,527 578.3,549.6" stroke="#e8845a" stroke-width="3"/>
<path d="M419,607.5 V495 M412.5,503 L419,495 L425.5,503" stroke="#ffffff" stroke-width="3.5"/>
<path d="M419,607.5 H597 M589,601 L597,607.5 L589,614" stroke="#ffffff" stroke-width="3.5"/>
<path d="M580.5,524.5 H603 M597,518.5 L603,524.5 L597,530.5" stroke="#ffffff" stroke-width="2.5"/>
</g>
<g><circle cx="428" cy="592.7" r="4" fill="#e8845a"/><circle cx="452.2" cy="583.4" r="4" fill="#e8845a"/><circle cx="464.1" cy="516.2" r="4" fill="#e8845a"/><circle cx="548.6" cy="499.4" r="4" fill="#e8845a"/><circle cx="560.2" cy="569.5" r="4" fill="#e8845a"/><circle cx="570.7" cy="527" r="4" fill="#e8845a"/><circle cx="482.5" cy="544.5" r="3.2" fill="#6cbcf0"/><circle cx="490.1" cy="556.8" r="4" fill="#6cbcf0"/><circle cx="498.3" cy="592" r="4" fill="#6cbcf0"/><circle cx="511.2" cy="515.8" r="4" fill="#6cbcf0"/><circle cx="524.4" cy="567.4" r="4" fill="#6cbcf0"/><circle cx="534.6" cy="590.6" r="4" fill="#6cbcf0"/></g>
<g stroke-linejoin="round">
<path d="M594,727 C600,731 606,733 611.5,734 C611.5,742 611,754 608,759 C605,764 600,768 594,771 C588,768 583,764 580,759 C577,754 576.5,742 576.5,734 C582,733 588,731 594,727 Z" fill="#1a3566" stroke="#e8885a" stroke-width="2.6"/>
<path d="M594,731.5 C598.5,734.5 603,736 607.5,737 C607.5,744 607,753 604.5,757 C602,761 598.5,764 594,766.5 C589.5,764 586,761 583.5,757 C581,753 580.5,744 580.5,737 C585,736 589.5,734.5 594,731.5 Z" fill="#6cbcf0"/>
</g>
<g fill="none" stroke-linecap="round" stroke-linejoin="round">
<path d="M779,528 H736 M742,522 L736,528 L742,534" stroke="#ffffff" stroke-width="3"/>
<path d="M828,528 H869 M863,522 L869,528 L863,534" stroke="#ffffff" stroke-width="3"/>
<path d="M779,593 H736 M742,587 L736,593 L742,599" stroke="#ffffff" stroke-width="3"/>
<path d="M827,593 H869 M863,587 L869,593 L863,599" stroke="#ffffff" stroke-width="3"/>
<path d="M738,564 H867" stroke="#6cbcf0" stroke-width="3"/>
<path d="M753,584 C764,560 771,540.5 782,540.5 C797,540.5 806,587.5 821,587.5 C834,587.5 842,556 854,540" stroke="#6cbcf0" stroke-width="3"/>
</g>
<g fill="none" stroke="#e8845a" stroke-width="2" stroke-linejoin="round" stroke-linecap="round">
<path d="M911.6,552.6 L926.6,560.4 L926.6,577.6 L911.6,586 L897,577.6 L897,560.4 Z M897,560.4 L911.6,568.2 L926.6,560.4 M911.6,568.2 V586"/>
<path d="M911.6,552 V542.5 M907.6,546.7 L911.6,542 L915.6,546.7"/>
<path d="M889.8,558.2 L890.3,554.3 L894.2,554.8 M890.3,554.3 L894.5,558.5"/>
<path d="M933.2,558.2 L932.7,554.3 L928.8,554.8 M932.7,554.3 L928.5,558.5"/>
<path d="M889.8,578.8 L890.3,582.7 L894.2,582.2 M890.3,582.7 L894.5,578.5"/>
<path d="M933.2,578.8 L932.7,582.7 L928.8,582.2 M932.7,582.7 L928.5,578.5"/>
</g>
<g fill="none" stroke="#17305c" stroke-width="2.3" stroke-linejoin="round">
<path d="M907.24,933.40 L909.94,935.11 L908.60,938.34 L905.49,937.64 L902.94,940.19 L903.64,943.30 L900.41,944.64 L898.70,941.94 L895.10,941.94 L893.39,944.64 L890.16,943.30 L890.86,940.19 L888.31,937.64 L885.20,938.34 L883.86,935.11 L886.56,933.40 L886.56,929.80 L883.86,928.09 L885.20,924.86 L888.31,925.56 L890.86,923.01 L890.16,919.90 L893.39,918.56 L895.10,921.26 L898.70,921.26 L900.41,918.56 L903.64,919.90 L902.94,923.01 L905.49,925.56 L908.60,924.86 L909.94,928.09 L907.24,929.80 Z"/>
<circle cx="896.9" cy="931.6" r="5.5"/>
<circle cx="918" cy="950.5" r="10.3"/>
<path d="M911.5,946.5 L918,953.5 L933,938.5 L935.5,941.5 L918,958 L909,949 Z" fill="#6dc0f1"/>
</g>
<path d="M968.2,944.4 C971.2,957.3 978.7,964.8 991.6,967.8 C978.7,970.8 971.2,978.3 968.2,991.2 C965.2,978.3 957.7,970.8 944.8,967.8 C957.7,964.8 965.2,957.3 968.2,944.4 Z" fill="#8d97a9"/>
</svg>
<div class="tx" id="t1" style="left:70.00px;top:44.14px;font-size:46.5px;font-weight:bold;color:#f5f6f8;-webkit-text-stroke:1.3px #f5f6f8;letter-spacing:1.0px;"><span style="transform:scaleX(0.8414)">INDEX VOLTALITY MEASUREMENT</span></div>
<div class="tx" id="t2" style="left:70.00px;top:93.14px;font-size:46.5px;font-weight:bold;color:#f5f6f8;-webkit-text-stroke:1.3px #f5f6f8;letter-spacing:1.0px;"><span style="transform:scaleX(0.8114)">FOR SHORT-TERM TRADERS</span></div>
<div class="tx" id="t3" style="left:67.00px;top:147.25px;font-size:29px;font-weight:normal;color:#72c2f4;-webkit-text-stroke:0.3px #72c2f4;"><span style="transform:scaleX(0.9583)">Key Tools &amp; Techniques</span></div>
<div class="tx w" id="c1a" style="left:119.20px;top:388.44px;font-size:31.5px;font-weight:bold;color:#f4f6fa;-webkit-text-stroke:0.7px #f4f6fa;"><span style="transform:scaleX(0.8822)">1. VIX Index</span></div>
<div class="tx w" id="c1b" style="left:131.80px;top:425.28px;font-size:24px;font-weight:normal;color:#f4f6fa;-webkit-text-stroke:0.6px #f4f6fa;"><span style="transform:scaleX(0.9777)">(Fear Gauge)</span></div>
<div class="tx w" id="c2a" style="left:464.00px;top:393.53px;font-size:29.5px;font-weight:bold;color:#f4f6fa;-webkit-text-stroke:0.7px #f4f6fa;"><span style="transform:scaleX(0.9409)">2. ATR</span></div>
<div class="tx w" id="c2b" style="left:396.20px;top:428.44px;font-size:25px;font-weight:normal;color:#f4f6fa;-webkit-text-stroke:0.6px #f4f6fa;"><span style="transform:scaleX(0.9325)">(Average True Range)</span></div>
<div class="tx w" id="c3a" style="left:740.00px;top:395.16px;font-size:31px;font-weight:bold;color:#f4f6fa;-webkit-text-stroke:0.7px #f4f6fa;"><span style="transform:scaleX(0.9041)">3. Bollinger</span></div>
<div class="tx w" id="c3b" style="left:771.80px;top:430.41px;font-size:30px;font-weight:bold;color:#f4f6fa;-webkit-text-stroke:0.7px #f4f6fa;"><span style="transform:scaleX(0.8881)">Bands</span></div>
<div class="tx w" id="b1" style="left:113.80px;top:613.62px;font-size:19px;font-weight:normal;color:#f4f6fa;-webkit-text-stroke:0.35px #f4f6fa;"><span style="transform:scaleX(0.9523)">Higher VIX = Higher</span></div>
<div class="tx w" id="b2" style="left:113.80px;top:636.22px;font-size:19px;font-weight:normal;color:#f4f6fa;-webkit-text-stroke:0.35px #f4f6fa;"><span style="transform:scaleX(0.9754)">Expected Voltallity</span></div>
<div class="tx w" id="b3" style="left:113.80px;top:697.12px;font-size:19px;font-weight:normal;color:#f4f6fa;-webkit-text-stroke:0.35px #f4f6fa;"><span style="transform:scaleX(0.9568)">Real-time market</span></div>
<div class="tx w" id="b4" style="left:114.80px;top:719.72px;font-size:19px;font-weight:normal;color:#f4f6fa;-webkit-text-stroke:0.35px #f4f6fa;"><span style="transform:scaleX(0.9590)">sentiment</span></div>
<div class="tx w" id="m1" style="left:422.20px;top:629.42px;font-size:19px;font-weight:normal;color:#f4f6fa;-webkit-text-stroke:0.35px #f4f6fa;"><span style="transform:scaleX(0.9601)">Measures price range</span></div>
<div class="tx w" id="m2" style="left:511.20px;top:650.92px;font-size:19px;font-weight:normal;color:#f4f6fa;-webkit-text-stroke:0.35px #f4f6fa;"><span style="transform:scaleX(0.9663)">over period</span></div>
<div class="tx w" id="m3" style="left:418.20px;top:703.72px;font-size:19px;font-weight:normal;color:#f4f6fa;-webkit-text-stroke:0.35px #f4f6fa;"><span style="transform:scaleX(0.9548)">Helps set stop-losses</span></div>
<div class="tx w" id="m4" style="left:419.20px;top:725.52px;font-size:19px;font-weight:normal;color:#f4f6fa;-webkit-text-stroke:0.35px #f4f6fa;"><span style="transform:scaleX(0.9543)">&amp; take-profits</span></div>
<div class="tx w" id="m5" style="left:395.00px;top:821.01px;font-size:18px;font-weight:normal;color:#f4f6fa;-webkit-text-stroke:0.35px #f4f6fa;"><span style="transform:scaleX(0.9182)">ATR = Average of True Ranges</span></div>
<div class="tx w" id="r1" style="left:720.80px;top:633.92px;font-size:19px;font-weight:normal;color:#f4f6fa;-webkit-text-stroke:0.35px #f4f6fa;"><span style="transform:scaleX(0.9046)">Upper, Middle, Lower</span></div>
<div class="tx w" id="r2" style="left:720.80px;top:655.82px;font-size:19px;font-weight:normal;color:#f4f6fa;-webkit-text-stroke:0.35px #f4f6fa;"><span style="transform:scaleX(0.8948)">Lower Bands</span></div>
<div class="tx w" id="r3" style="left:720.80px;top:704.32px;font-size:19px;font-weight:normal;color:#f4f6fa;-webkit-text-stroke:0.35px #f4f6fa;"><span style="transform:scaleX(0.9402)">Contraction = Low Voltallity,</span></div>
<div class="tx w" id="r4" style="left:720.80px;top:726.72px;font-size:19px;font-weight:normal;color:#f4f6fa;-webkit-text-stroke:0.35px #f4f6fa;"><span style="transform:scaleX(0.9460)">Expansion &amp; High-profity</span></div>
<div class="tx w" id="r5" style="left:722.80px;top:776.32px;font-size:19px;font-weight:normal;color:#f4f6fa;-webkit-text-stroke:0.35px #f4f6fa;"><span style="transform:scaleX(0.9938)">Identifies potential</span></div>
<div class="tx w" id="r6" style="left:720.80px;top:798.72px;font-size:19px;font-weight:normal;color:#f4f6fa;-webkit-text-stroke:0.35px #f4f6fa;"><span style="transform:scaleX(0.9785)">breakouts/reversals</span></div>
<div class="tx" id="s1" style="left:101.00px;top:929.85px;font-size:22.5px;font-weight:bold;color:#12294f;-webkit-text-stroke:0.3px #12294f;"><span style="transform:scaleX(0.8197)">SHORT-TERM TRADING STRATEGY:</span></div>
<div class="tx" id="s2" style="left:426.00px;top:929.85px;font-size:22.5px;font-weight:normal;color:#12294f;-webkit-text-stroke:0.5px #12294f;"><span style="transform:scaleX(0.9168)">Combine indicators for better entry/exit decisions</span></div>
<div style="position:absolute;left:93.7px;top:619.0px;width:8px;height:8px;border-radius:50%;background:#f4f6fa"></div>
<div style="position:absolute;left:93.7px;top:702.6px;width:8px;height:8px;border-radius:50%;background:#f4f6fa"></div>
<div style="position:absolute;left:398.2px;top:709.4px;width:8px;height:8px;border-radius:50%;background:#f4f6fa"></div>
<div style="position:absolute;left:702.3px;top:639.5px;width:8px;height:8px;border-radius:50%;background:#f4f6fa"></div>
<div style="position:absolute;left:702.3px;top:710.1px;width:8px;height:8px;border-radius:50%;background:#f4f6fa"></div>
<div style="position:absolute;left:703.0px;top:781.3px;width:8px;height:8px;border-radius:50%;background:#f4f6fa"></div>
</body></html>
